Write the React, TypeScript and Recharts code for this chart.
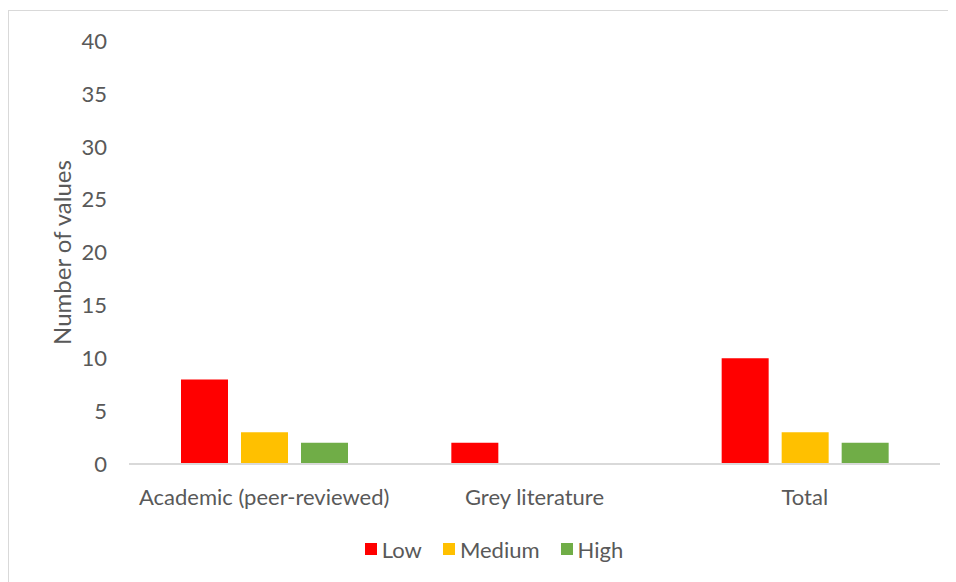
import React from "react";
import { BarChart, Bar, XAxis, YAxis, Legend, Label } from "recharts";

const categories = ["Academic (peer-reviewed)", "Grey literature", "Total"];
const lowValues = [8, 2, 10];
const mediumValues = [3, 0, 3];
const highValues = [2, 0, 2];
const yTicks = [0, 5, 10, 15, 20, 25, 30, 35, 40];

const seriesNames = ["Low", "Medium", "High"];
const seriesColors = ["#ff0000", "#ffc000", "#70ad47"];

const data = categories.map((c, i) => ({
  name: c,
  Low: lowValues[i],
  Medium: mediumValues[i],
  High: highValues[i],
}));

const FONT = "Lato, 'Open Sans', sans-serif";
const TXT = "#595959";

const LegendContent = () => (
  <div
    style={{
      display: "flex",
      justifyContent: "center",
      alignItems: "center",
      fontFamily: FONT,
      fontSize: 22,
      color: TXT,
      height: 26,
    }}
  >
    {seriesNames.map((n, i) => (
      <div key={n} style={{ display: "flex", alignItems: "center", marginRight: i < 2 ? 21 : 0 }}>
        <span
          style={{
            display: "inline-block",
            width: 12,
            height: 12,
            background: seriesColors[i],
            marginRight: 5,
          }}
        />
        <span>{n}</span>
      </div>
    ))}
  </div>
);

export default function App() {
  return (
    <div
      style={{
        width: 940,
        height: 575,
        border: "1px solid #d9d9d9",
        marginTop: 2,
        background: "#fff",
        fontFamily: FONT,
      }}
    >
      <BarChart
        width={940}
        height={575}
        data={data}
        margin={{ top: 30, right: 9, left: 30, bottom: 46 }}
        barSize={47}
        barGap={13}
      >
        <XAxis
          dataKey="name"
          axisLine={{ stroke: "#d9d9d9", strokeWidth: 2 }}
          tickLine={false}
          tick={{ fill: TXT, fontSize: 22, fontFamily: FONT }}
          tickMargin={19}
          height={50}
        />
        <YAxis
          domain={[0, 40]}
          ticks={yTicks}
          axisLine={false}
          tickLine={false}
          width={90}
          tick={{ fill: TXT, fontSize: 22, fontFamily: FONT }}
          tickMargin={16}
        >
          <Label
            value="Number of values"
            angle={-90}
            position="insideLeft"
            offset={23}
            style={{ fill: TXT, fontSize: 24, fontFamily: FONT, textAnchor: "middle" }}
          />
        </YAxis>
        <Legend
          content={<LegendContent />}
          wrapperStyle={{ top: 525, left: 185, width: 600 }}
        />
        {seriesNames.map((n, i) => (
          <Bar key={n} dataKey={n} fill={seriesColors[i]} isAnimationActive={false} />
        ))}
      </BarChart>
    </div>
  );
}
